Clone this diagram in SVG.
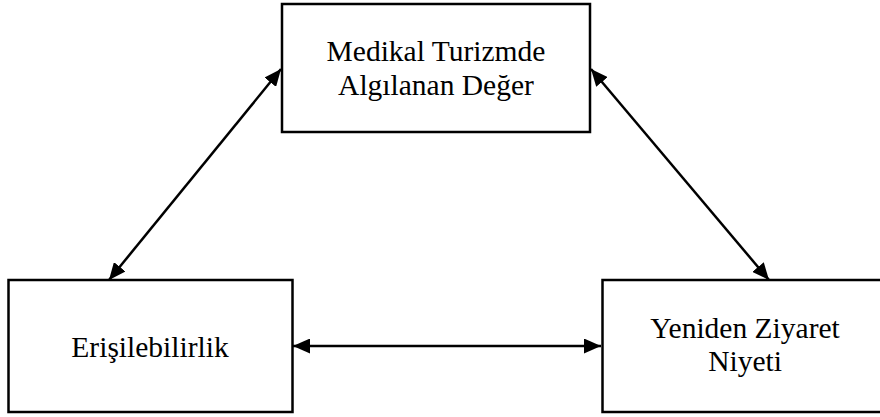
<svg xmlns="http://www.w3.org/2000/svg" width="880" height="417" viewBox="0 0 880 417">
<style>
.box{fill:#fff;stroke:#000;stroke-width:2.5}
.lbl{font-family:"Liberation Serif","Times New Roman",serif;font-size:29.5px;fill:#000;text-anchor:middle}
.conn{stroke:#000;stroke-width:2.5;fill:none;marker-start:url(#ah);marker-end:url(#ah)}
</style>
<defs>
<marker id="ah" viewBox="0 0 17 15" refX="17" refY="7.5" markerWidth="17" markerHeight="15" markerUnits="userSpaceOnUse" orient="auto-start-reverse">
<path d="M0,0 L17,7.5 L0,15 Z" fill="#000"/>
</marker>
</defs>
<rect width="880" height="417" fill="#fff"/>
<g id="node-deger">
<rect class="box" x="282" y="4" width="308" height="128"/>
<text class="lbl" x="436" y="61">Medikal Turizmde</text>
<text class="lbl" x="436" y="95">Algılanan Değer</text>
</g>
<g id="node-erisilebilirlik">
<rect class="box" x="8.5" y="280" width="284" height="132"/>
<text class="lbl" x="150" y="357">Erişilebilirlik</text>
</g>
<g id="node-niyet">
<rect class="box" x="602.5" y="280" width="290" height="132"/>
<text class="lbl" x="745" y="338">Yeniden Ziyaret</text>
<text class="lbl" x="745" y="371">Niyeti</text>
</g>
<g id="connectors">
<line class="conn" x1="109" y1="280" x2="281" y2="69"/>
<line class="conn" x1="591" y1="69" x2="769" y2="280"/>
<line class="conn" x1="293" y1="346" x2="601" y2="346"/>
</g>
</svg>
